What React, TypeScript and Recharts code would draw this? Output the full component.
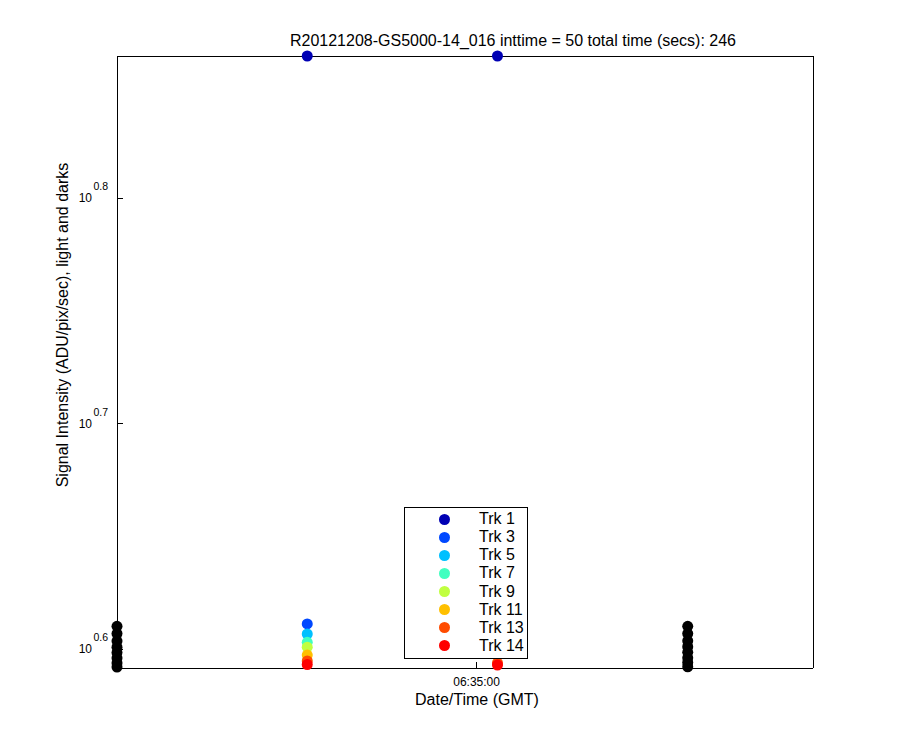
import React from 'react';
import { ScatterChart, Scatter, XAxis, YAxis, Legend } from 'recharts';

const FONT = '"Liberation Sans", Arial, Helvetica, sans-serif';

// time in seconds of day (GMT)
const darkTimes = [23545, 23791];
const lightTimes = [23627, 23709];
const xDomain = [23545, 23845];
const xTicks = [23700];
const xTickLabels = ['06:35:00'];

const yDomain = [3.906, 7.298];
const yTickExponents = [0.6, 0.7, 0.8];
const yTicks = [3.98107, 5.01187, 6.30957];

const trackNames = ['Trk 1', 'Trk 3', 'Trk 5', 'Trk 7', 'Trk 9', 'Trk 11', 'Trk 13', 'Trk 14'];
const trackColors = ['#0000B4', '#0048FF', '#00C0FF', '#40FFC0', '#C0FF40', '#FFC000', '#FF4C00', '#FF0000'];

const trk1 = [7.298, 7.298];
const trk3 = [4.086, 4.09];
const trk5 = [4.044, 4.05];
const trk7 = [4.01, 4.012];
const trk9 = [3.99, 3.99];
const trk11 = [3.958, 3.96];
const trk13 = [3.934, 3.926];
const trk14 = [3.92, 3.918];
const trackValues = [trk1, trk3, trk5, trk7, trk9, trk11, trk13, trk14];

const darksFirst = [4.076, 4.046, 4.015, 3.99, 3.968, 3.946, 3.926, 3.91];
const darksLast = [4.076, 4.046, 4.016, 3.992, 3.969, 3.947, 3.928, 3.911];

const darkData = [
  ...darksFirst.map((v) => ({ t: darkTimes[0], v })),
  ...darksLast.map((v) => ({ t: darkTimes[1], v })),
];

const TICK_LEN = 6;
const LINE = { stroke: '#000', shapeRendering: 'crispEdges' } as any;

const BottomTick = (props: any) => {
  const { x, y, index } = props;
  return (
    <g>
      <line x1={x} x2={x} y1={y} y2={y - TICK_LEN} stroke="#000" shapeRendering="crispEdges" />
      <text x={x} y={y + 18} textAnchor="middle" fontFamily={FONT} fontSize={12} fill="#000">
        {xTickLabels[index]}
      </text>
    </g>
  );
};

const TopTick = (props: any) => {
  const { x, y } = props;
  return <line x1={x} x2={x} y1={y} y2={y + TICK_LEN} stroke="#000" shapeRendering="crispEdges" />;
};

const LeftTick = (props: any) => {
  const { x, y, index } = props;
  return (
    <g>
      <line x1={x} x2={x + TICK_LEN} y1={y} y2={y} stroke="#000" shapeRendering="crispEdges" />
      <text x={x - 25} y={y + 4} textAnchor="end" fontFamily={FONT} fontSize={12} fill="#000">
        10
      </text>
      <text x={x - 23.5} y={y - 8} textAnchor="start" fontFamily={FONT} fontSize={10.5} fill="#000">
        {yTickExponents[index].toFixed(1)}
      </text>
    </g>
  );
};

const RightTick = (props: any) => {
  const { x, y } = props;
  return <line x1={x} x2={x - TICK_LEN} y1={y} y2={y} stroke="#000" shapeRendering="crispEdges" />;
};

const renderLegend = (props: any) => {
  const items = (props.payload || [])
    .filter((p: any) => p.type !== 'none')
    .slice()
    .sort((a: any, b: any) => trackNames.indexOf(a.value) - trackNames.indexOf(b.value));
  return (
    <div
      style={{
        position: 'relative',
        width: 124,
        height: 152,
        boxSizing: 'border-box',
        border: '1px solid #000',
        background: '#fff',
        fontFamily: FONT,
        fontSize: 16,
      }}
    >
      {items.map((it: any, i: number) => (
        <div key={i} style={{ position: 'absolute', left: 0, top: 2 + i * 18.14, height: 18, width: '100%' }}>
          <span
            style={{
              position: 'absolute',
              left: 33.5,
              top: 3.5,
              width: 11,
              height: 11,
              borderRadius: '50%',
              background: it.color,
            }}
          />
          <span style={{ position: 'absolute', left: 74, top: 0, lineHeight: '18px', color: '#000', whiteSpace: 'nowrap' }}>
            {it.value}
          </span>
        </div>
      ))}
    </div>
  );
};

const dot = (color: string) => (p: any) => <circle cx={p.cx} cy={p.cy} r={5.5} fill={color} />;

export default function App() {
  return (
    <div style={{ position: 'absolute', left: 0, top: 0, width: 900, height: 750, background: '#fff' }}>
      <ScatterChart width={900} height={750} margin={{ top: 46, right: 77, bottom: 52, left: 57 }}>
        <XAxis
          xAxisId="b"
          dataKey="t"
          type="number"
          domain={xDomain}
          ticks={xTicks}
          interval={0}
          tickSize={0}
          tickMargin={0}
          tickLine={false}
          axisLine={LINE}
          height={30}
          tick={BottomTick}
          label={() => (
            <text x={477} y={705} textAnchor="middle" fontFamily={FONT} fontSize={16} fill="#000">
              Date/Time (GMT)
            </text>
          )}
        />
        <XAxis
          xAxisId="t"
          orientation="top"
          type="number"
          domain={xDomain}
          ticks={xTicks}
          interval={0}
          tickSize={0}
          tickMargin={0}
          tickLine={false}
          axisLine={LINE}
          height={10}
          tick={TopTick}
          label={() => (
            <text x={513} y={46} textAnchor="middle" fontFamily={FONT} fontSize={16} fill="#000">
              R20121208-GS5000-14_016 inttime = 50 total time (secs): 246
            </text>
          )}
        />
        <YAxis
          yAxisId="l"
          dataKey="v"
          type="number"
          scale="log"
          domain={yDomain}
          ticks={yTicks}
          interval={0}
          tickSize={0}
          tickMargin={0}
          tickLine={false}
          axisLine={LINE}
          width={60}
          tick={LeftTick}
          label={() => (
            <text
              x={62}
              y={325}
              transform="rotate(-90 62 325)"
              textAnchor="middle"
              dominantBaseline="central"
              fontFamily={FONT}
              fontSize={16}
              fill="#000"
            >
              Signal Intensity (ADU/pix/sec), light and darks
            </text>
          )}
        />
        <YAxis
          yAxisId="r"
          orientation="right"
          type="number"
          scale="log"
          domain={yDomain}
          ticks={yTicks}
          interval={0}
          tickSize={0}
          tickMargin={0}
          tickLine={false}
          axisLine={LINE}
          width={10}
          tick={RightTick}
        />
        {trackNames.map((name, i) => (
          <Scatter
            key={name}
            name={name}
            xAxisId="b"
            yAxisId="l"
            data={lightTimes.map((t, j) => ({ t, v: trackValues[i][j] }))}
            fill={trackColors[i]}
            legendType="circle"
            shape={dot(trackColors[i])}
            isAnimationActive={false}
          />
        ))}
        <Scatter
          name="darks"
          xAxisId="b"
          yAxisId="l"
          data={darkData}
          fill="#000"
          legendType="none"
          shape={dot('#000')}
          isAnimationActive={false}
        />
        <Legend
          layout="vertical"
          align="center"
          verticalAlign="middle"
          wrapperStyle={{ position: 'absolute', left: 404, top: 507, width: 124, height: 152 }}
          content={renderLegend}
        />
      </ScatterChart>
    </div>
  );
}
